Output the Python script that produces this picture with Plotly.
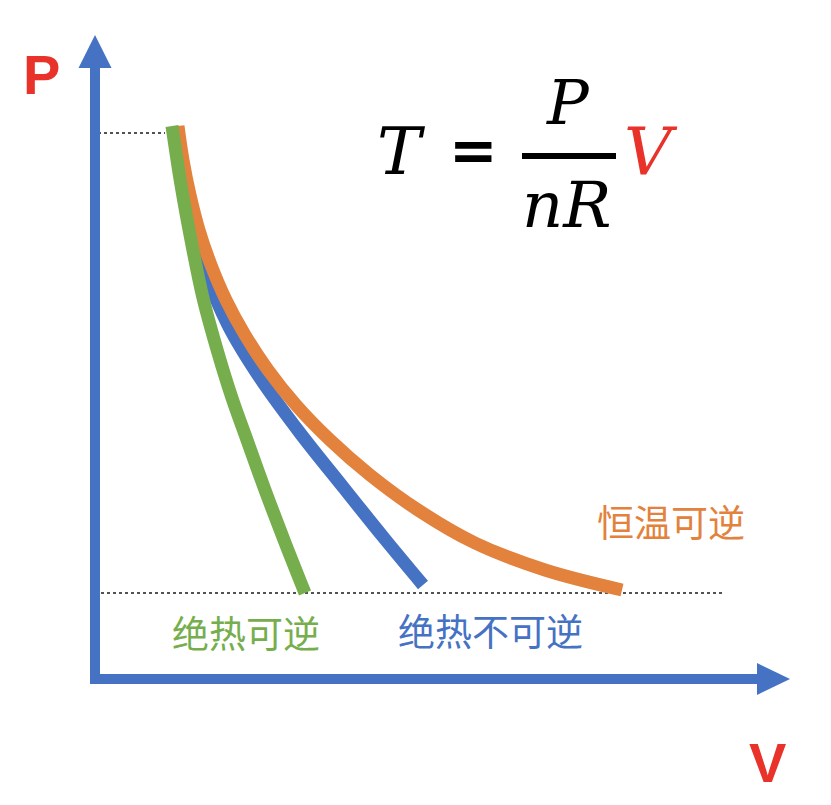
import plotly.graph_objects as go

# ---- data (V, P); origin at the axis corner ----
green_V = [0.77, 0.86, 0.96, 1.08, 1.23, 1.37, 1.52, 1.70, 1.89, 2.10]
green_P = [5.53, 4.94, 4.39, 3.81, 3.26, 2.81, 2.39, 1.89, 1.39, 0.86]

blue_V = [0.82, 0.95, 1.10, 1.33, 1.65, 2.05, 2.48, 2.89, 3.28]
blue_P = [5.52, 4.69, 4.09, 3.54, 3.01, 2.46, 1.92, 1.41, 0.94]

orange_V = [0.83, 0.88, 0.95, 1.04, 1.16, 1.31, 1.50, 1.73, 2.01, 2.35, 2.75, 3.23, 3.80, 4.50, 5.27]
orange_P = [5.53, 5.19, 4.84, 4.49, 4.14, 3.79, 3.44, 3.09, 2.74, 2.39, 2.04, 1.69, 1.36, 1.09, 0.89]

P_high = 5.46   # top dotted reference line
P_low = 0.86    # bottom dotted reference line

labels = {
    "green": "绝热可逆",
    "blue": "绝热不可逆",
    "orange": "恒温可逆",
}

BLUE = "#4672C4"
ORANGE = "#E2823D"
GREEN = "#76AE4E"
RED = "#E8322A"

W, H = 831, 805
X0, X1 = -0.95, 7.36
Y0, Y1 = -1.26, 6.79


def paper(px, py):
    return px / W, 1 - py / H


fig = go.Figure()

fig.add_trace(go.Scatter(x=blue_V, y=blue_P, mode="lines",
                         line=dict(color=BLUE, width=13, shape="spline", smoothing=1.0),
                         hoverinfo="skip", showlegend=False))
fig.add_trace(go.Scatter(x=orange_V, y=orange_P, mode="lines",
                         line=dict(color=ORANGE, width=13, shape="spline", smoothing=1.0),
                         hoverinfo="skip", showlegend=False))
fig.add_trace(go.Scatter(x=green_V, y=green_P, mode="lines",
                         line=dict(color=GREEN, width=13, shape="spline", smoothing=1.0),
                         hoverinfo="skip", showlegend=False))

shapes = []
# dotted reference lines
shapes.append(dict(type="line", x0=-0.03, x1=green_V[0] - 0.07, y0=P_high, y1=P_high,
                   line=dict(color="#1a1a1a", width=1.6, dash="dot"), layer="below"))
shapes.append(dict(type="line", x0=0.0, x1=6.27, y0=P_low, y1=P_low,
                   line=dict(color="#1a1a1a", width=1.6, dash="dot"), layer="below"))
# axes (shafts)
shapes.append(dict(type="line", x0=0, x1=0, y0=-0.05, y1=6.12,
                   line=dict(color=BLUE, width=10)))
shapes.append(dict(type="line", x0=-0.05, x1=6.63, y0=0, y1=0,
                   line=dict(color=BLUE, width=10)))
# arrow heads
shapes.append(dict(type="path", path="M -0.165,6.11 L 0.165,6.11 L 0,6.44 Z",
                   fillcolor=BLUE, line=dict(width=0)))
shapes.append(dict(type="path", path="M 6.62,0.16 L 6.62,-0.16 L 6.95,0 Z",
                   fillcolor=BLUE, line=dict(width=0)))
# fraction bar of the formula
bx0, by = paper(522, 156)
bx1, _ = paper(616, 156)
shapes.append(dict(type="line", xref="paper", yref="paper", x0=bx0, x1=bx1, y0=by, y1=by,
                   line=dict(color="black", width=6)))

annotations = []


def add_text(text, px, py, size, color, family, bold=False, italic=False):
    x, y = paper(px, py)
    t = text
    if bold:
        t = "<b>" + t + "</b>"
    if italic:
        t = "<i>" + t + "</i>"
    annotations.append(dict(text=t, x=x, y=y, xref="paper", yref="paper",
                            xanchor="center", yanchor="middle", showarrow=False,
                            font=dict(size=size, color=color, family=family)))


CJK = "Noto Sans CJK SC, sans-serif"
SERIF = "DejaVu Serif, Liberation Serif, serif"

add_text("P", 41, 75, 56, RED, "Liberation Sans", bold=True)
add_text("V", 767, 762, 56, RED, "Liberation Sans", bold=True)
add_text(labels["green"], 246, 632, 37, GREEN, CJK)
add_text(labels["blue"], 490, 630, 37, BLUE, CJK)
add_text(labels["orange"], 671, 521, 37, ORANGE, CJK)

add_text("T", 401, 152, 66, "black", SERIF, italic=True)
add_text("=", 473, 150, 58, "black", "DejaVu Sans", bold=True)
add_text("P", 568, 102, 62, "black", SERIF, italic=True)
add_text("nR", 566, 205, 64, "black", SERIF, italic=True)
add_text("V", 651, 152, 66, RED, SERIF, italic=True)

fig.update_layout(
    width=W, height=H,
    margin=dict(l=0, r=0, t=0, b=0),
    paper_bgcolor="white", plot_bgcolor="white",
    xaxis=dict(range=[X0, X1], visible=False, fixedrange=True),
    yaxis=dict(range=[Y0, Y1], visible=False, fixedrange=True),
    shapes=shapes, annotations=annotations,
    showlegend=False,
)

fig.write_html("out.html", config={"displayModeBar": False},
               post_script="document.body.style.margin='0';document.body.style.overflow='hidden';")
